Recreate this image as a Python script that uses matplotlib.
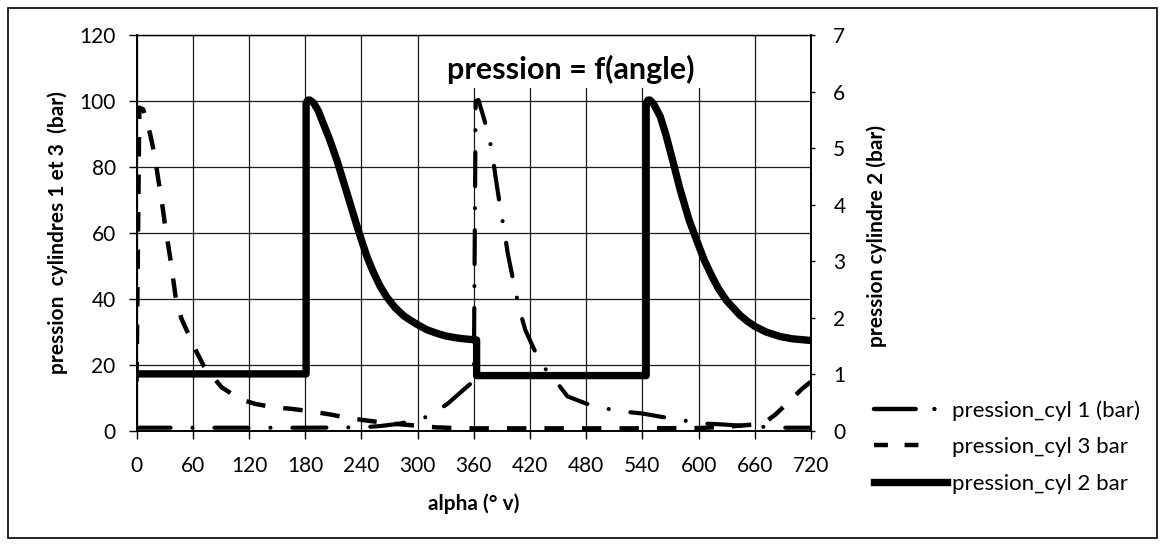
# pression dans les cylindres en fonction de l'angle vilebrequin
import numpy as np
import matplotlib.pyplot as plt
from matplotlib.lines import Line2D
from matplotlib.patches import Rectangle

plt.rcParams['font.family'] = ['Lato', 'DejaVu Sans']
plt.rcParams['lines.scale_dashes'] = False

#---------------------------------------------------------------------------
# data
# cylindre 1 (axe de gauche, bar)
alpha_cyl1 = [0, 60, 120, 180, 240, 260, 280, 300, 315, 333, 345, 360, 362,
              365, 376, 380, 383, 389, 393, 396, 404, 409, 415, 424, 432,
              447, 460, 480, 501, 523, 540, 560, 580, 603, 625, 645, 666,
              688, 708, 720]
p_cyl1 = [1.0, 1.0, 1.0, 1.0, 1.1, 1.5, 2.2, 3.4, 4.8, 8.5, 11.5, 15.2, 100,
          100.3, 89.7, 83.6, 77.4, 66.3, 60, 54.2, 42.9, 36.6, 30.6, 25, 20.3,
          15.3, 10.5, 8.3, 6.8, 5.8, 5.3, 4.3, 3.4, 2.3, 2.0, 1.6, 1.3,
          1.0, 1.0, 1.0]

# cylindre 3 (axe de gauche, bar)
alpha_cyl3 = [0, 3, 7, 10, 14.5, 19, 22, 25, 28, 30.6, 34, 37, 42, 48, 56, 64,
              72, 91, 111, 127, 146, 166, 185, 207, 225, 245, 270, 300, 320,
              340, 360, 450, 540, 600, 630, 660, 672, 682, 696, 710, 720]
p_cyl3 = [15, 98, 97.5, 95, 90, 84, 78.5, 73, 67.5, 62, 56, 50.5, 40, 34, 29, 24,
          19.6, 13.2, 9.6, 8.2, 7.2, 6.7, 6.0, 5.0, 4.0, 3.2, 2.3, 1.6, 1.1,
          0.9, 0.8, 0.8, 0.8, 0.9, 1.3, 2.0, 2.9, 5.0, 8.8, 12.7, 15]

# cylindre 2 (axe de droite, bar)
alpha_cyl2 = [0, 181, 181, 183, 185, 189, 194, 199, 206, 214, 224, 235, 240,
              246, 253, 260, 267, 276, 285, 292, 301, 310, 320, 330, 342, 352,
              363, 363,
              544, 544, 546, 548, 552, 559, 565, 572, 580, 590, 600, 606, 614,
              621, 630, 644, 652, 660, 672, 687, 700, 720]
p_cyl2 = [1.01, 1.01, 5.80, 5.85, 5.85, 5.80, 5.66, 5.45, 5.16, 4.78, 4.24,
          3.64, 3.38, 3.08, 2.80, 2.56, 2.37, 2.18, 2.04, 1.96, 1.87, 1.79,
          1.73, 1.68, 1.645, 1.625, 1.61, 0.98,
          0.98, 5.80, 5.85, 5.85, 5.78, 5.56, 5.24, 4.80, 4.28, 3.72, 3.28,
          3.02, 2.74, 2.52, 2.30, 2.05, 1.94, 1.85, 1.75, 1.67, 1.63, 1.60]

x_ticks = [0, 60, 120, 180, 240, 300, 360, 420, 480, 540, 600, 660, 720]
y_ticks = [0, 20, 40, 60, 80, 100, 120]
y2_ticks = [0, 1, 2, 3, 4, 5, 6, 7]

labels = ['pression_cyl 1 (bar)', 'pression_cyl 3 bar', 'pression_cyl 2 bar']

#---------------------------------------------------------------------------
fig = plt.figure(figsize=(11.6, 5.44), dpi=100)
ax = fig.add_axes([0.1177, 0.2077, 0.5815, 0.7279])
ax2 = ax.twinx()

# white box behind the title (hides the grid there)
ax.add_patch(Rectangle((0.422, 0.866), 0.49, 0.134, transform=ax.transAxes,
                       facecolor='white', edgecolor='none', zorder=1.6))

ax.plot(alpha_cyl1, p_cyl1, color='black', lw=3.0,
        dashes=(24.5, 15.8, 0.01, 15.8), dash_capstyle='round')
ax.plot(alpha_cyl3, p_cyl3, color='black', lw=3.2,
        dashes=(14, 13), dash_capstyle='butt')
ax2.plot(alpha_cyl2, p_cyl2, color='black', lw=5.3,
         solid_joinstyle='round', solid_capstyle='butt')

ax.set_xlim(0, 720)
ax.set_ylim(0, 120)
ax2.set_ylim(0, 7)
ax.set_xticks(x_ticks)
ax.set_yticks(y_ticks)
ax2.set_yticks(y2_ticks)
ax.grid(True, color='#1a1a1a', lw=0.9)

ax.tick_params(axis='both', direction='out', length=6, width=1,
               labelsize=15, color='black')
ax.tick_params(axis='y', pad=9)
ax.tick_params(axis='x', pad=12)
ax2.tick_params(axis='y', direction='out', length=3, width=1,
                labelsize=15, pad=13)

for a in (ax, ax2):
    for s in a.spines.values():
        s.set_linewidth(1.2)
        s.set_color('black')
ax.spines['top'].set_linewidth(0.9)
ax2.spines['top'].set_linewidth(0.9)

ax.set_xlabel('alpha (° v)', fontsize=15, fontweight='bold', va='center')
ax.xaxis.set_label_coords(0.5, -0.184)
ax.set_ylabel('pression  cylindres 1 et 3  (bar)', fontsize=15,
              fontweight='bold', va='center')
ax.yaxis.set_label_coords(-0.117, 0.501)
ax2.set_ylabel('pression cylindre 2 (bar)', fontsize=15,
               fontweight='bold', va='center')
ax2.yaxis.set_label_coords(1.098, 0.492)

ax.text(0.644, 0.914, 'pression = f(angle)', transform=ax.transAxes,
        ha='center', va='center', fontsize=22, fontweight='bold', zorder=3)

# legend with handles drawn like the original
h1 = Line2D([], [], color='black', lw=3.2, dashes=(30, 13.5, 0.01, 30),
            dash_capstyle='round')
h3 = Line2D([], [], color='black', lw=3.2, dashes=(10, 12, 10, 40),
            dash_capstyle='butt')
h2 = Line2D([], [], color='black', lw=5.3)
fig.legend([h1, h3, h2], labels, loc='upper left',
           bbox_to_anchor=(874 / 1160, 1 - 400 / 544), frameon=False,
           fontsize=16, handlelength=3.3, handletextpad=0.2,
           labelspacing=0.75, borderpad=0, borderaxespad=0)

# chart area border
fig.add_artist(Rectangle((8 / 1160, 6 / 544), 1149 / 1160, 530 / 544,
                         transform=fig.transFigure, fill=False,
                         lw=1.2, edgecolor='black'))

fig.savefig('out.png', dpi=100)
